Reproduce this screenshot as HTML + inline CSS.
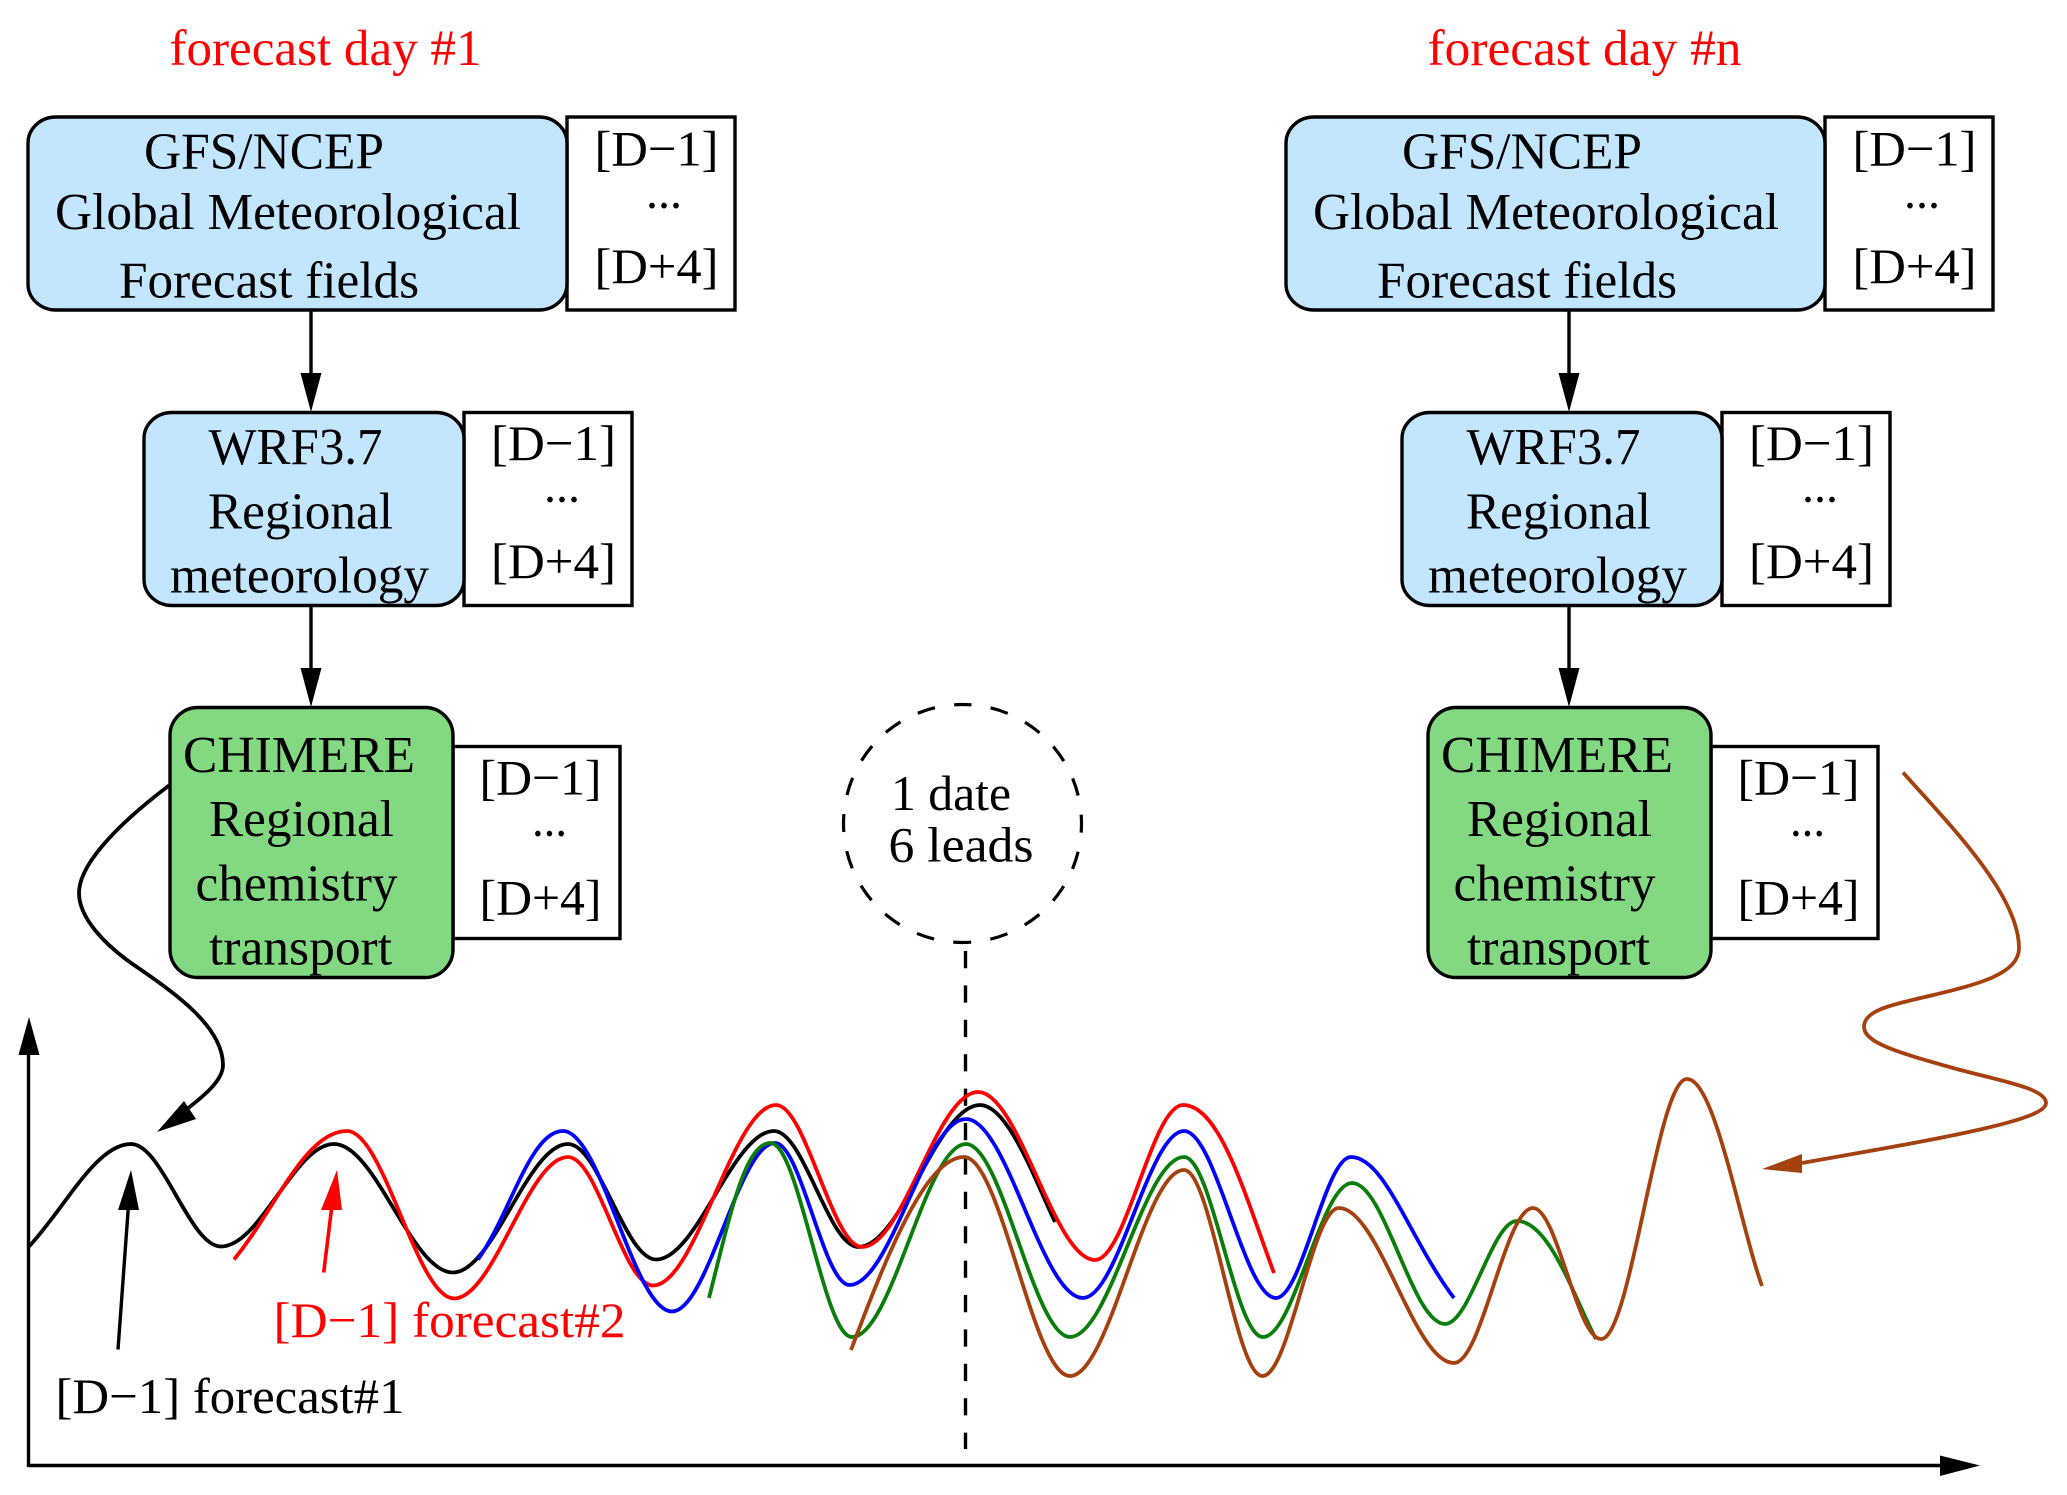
<!DOCTYPE html>
<html><head><meta charset="utf-8"><style>
html,body{margin:0;padding:0;background:#fff;width:2067px;height:1495px;overflow:hidden}
svg{display:block}
text{font-family:"Liberation Serif",serif;font-size:52px;fill:#000}
.t{font-size:50px}
.r{fill:#f00}
.b{stroke:#000;stroke-width:3.4}
.w{fill:#fff;stroke:#000;stroke-width:3.4}
.c{fill:none;stroke-width:3.8;stroke-linejoin:round}
</style></head><body>
<svg xmlns="http://www.w3.org/2000/svg" width="2067" height="1495" viewBox="0 0 2067 1495">
<rect width="2067" height="1495" fill="#fff"/>

<g>
<text class="r" x="169.5" y="65" textLength="312" lengthAdjust="spacingAndGlyphs" style="font-size:51px">forecast day #1</text>
<rect class="w" x="567" y="117" width="168" height="193"/>
<rect class="b" x="28" y="117" width="539" height="193" rx="28" ry="26" fill="#c3e6ff"/>
<text x="144" y="168.5" textLength="240" lengthAdjust="spacingAndGlyphs">GFS/NCEP</text>
<text x="55" y="229" textLength="466" lengthAdjust="spacingAndGlyphs">Global Meteorological</text>
<text x="119" y="297.5" textLength="300" lengthAdjust="spacingAndGlyphs">Forecast fields</text>
<text class="t" x="594.5" y="165.5" textLength="124" lengthAdjust="spacingAndGlyphs">[D−1]</text>
<text class="t" x="646" y="208" textLength="36" lengthAdjust="spacingAndGlyphs">...</text>
<text class="t" x="594.5" y="283" textLength="124" lengthAdjust="spacingAndGlyphs">[D+4]</text>
<line class="b" x1="311" y1="310" x2="311" y2="380"/>
<polygon points="300.5,373 321.5,373 311,412"/>

<rect class="w" x="464" y="412.5" width="168" height="193"/>
<rect class="b" x="144" y="412.5" width="320" height="193" rx="28" ry="26" fill="#c3e6ff"/>
<text x="208.5" y="464" textLength="174" lengthAdjust="spacingAndGlyphs">WRF3.7</text>
<text x="208" y="528.5" textLength="185" lengthAdjust="spacingAndGlyphs">Regional</text>
<text x="170" y="592.5" textLength="259" lengthAdjust="spacingAndGlyphs">meteorology</text>
<text class="t" x="491" y="460" textLength="125" lengthAdjust="spacingAndGlyphs">[D−1]</text>
<text class="t" x="544" y="502" textLength="36" lengthAdjust="spacingAndGlyphs">...</text>
<text class="t" x="491" y="578" textLength="125" lengthAdjust="spacingAndGlyphs">[D+4]</text>
<line class="b" x1="311" y1="605" x2="311" y2="675"/>
<polygon points="300.5,668 321.5,668 311,707"/>

<rect class="w" x="453" y="746.5" width="167" height="192"/>
<rect class="b" x="170" y="707.5" width="283" height="270" rx="28" ry="28" fill="#82d982"/>
<text x="183" y="772" textLength="232" lengthAdjust="spacingAndGlyphs">CHIMERE</text>
<text x="209" y="836" textLength="185" lengthAdjust="spacingAndGlyphs">Regional</text>
<text x="195.5" y="900.5" textLength="202" lengthAdjust="spacingAndGlyphs">chemistry</text>
<text x="209" y="964.5" textLength="183" lengthAdjust="spacingAndGlyphs">transport</text>
<text class="t" x="479.5" y="794.5" textLength="122" lengthAdjust="spacingAndGlyphs">[D−1]</text>
<text class="t" x="532" y="836" textLength="35" lengthAdjust="spacingAndGlyphs">...</text>
<text class="t" x="479.5" y="914.5" textLength="122" lengthAdjust="spacingAndGlyphs">[D+4]</text>
</g>

<g transform="translate(1258 0)">
<text class="r" x="169.5" y="65" textLength="314" lengthAdjust="spacingAndGlyphs" style="font-size:51px">forecast day #n</text>
<rect class="w" x="567" y="117" width="168" height="193"/>
<rect class="b" x="28" y="117" width="539" height="193" rx="28" ry="26" fill="#c3e6ff"/>
<text x="144" y="168.5" textLength="240" lengthAdjust="spacingAndGlyphs">GFS/NCEP</text>
<text x="55" y="229" textLength="466" lengthAdjust="spacingAndGlyphs">Global Meteorological</text>
<text x="119" y="297.5" textLength="300" lengthAdjust="spacingAndGlyphs">Forecast fields</text>
<text class="t" x="594.5" y="165.5" textLength="124" lengthAdjust="spacingAndGlyphs">[D−1]</text>
<text class="t" x="646" y="208" textLength="36" lengthAdjust="spacingAndGlyphs">...</text>
<text class="t" x="594.5" y="283" textLength="124" lengthAdjust="spacingAndGlyphs">[D+4]</text>
<line class="b" x1="311" y1="310" x2="311" y2="380"/>
<polygon points="300.5,373 321.5,373 311,412"/>

<rect class="w" x="464" y="412.5" width="168" height="193"/>
<rect class="b" x="144" y="412.5" width="320" height="193" rx="28" ry="26" fill="#c3e6ff"/>
<text x="208.5" y="464" textLength="174" lengthAdjust="spacingAndGlyphs">WRF3.7</text>
<text x="208" y="528.5" textLength="185" lengthAdjust="spacingAndGlyphs">Regional</text>
<text x="170" y="592.5" textLength="259" lengthAdjust="spacingAndGlyphs">meteorology</text>
<text class="t" x="491" y="460" textLength="125" lengthAdjust="spacingAndGlyphs">[D−1]</text>
<text class="t" x="544" y="502" textLength="36" lengthAdjust="spacingAndGlyphs">...</text>
<text class="t" x="491" y="578" textLength="125" lengthAdjust="spacingAndGlyphs">[D+4]</text>
<line class="b" x1="311" y1="605" x2="311" y2="675"/>
<polygon points="300.5,668 321.5,668 311,707"/>

<rect class="w" x="453" y="746.5" width="167" height="192"/>
<rect class="b" x="170" y="707.5" width="283" height="270" rx="28" ry="28" fill="#82d982"/>
<text x="183" y="772" textLength="232" lengthAdjust="spacingAndGlyphs">CHIMERE</text>
<text x="209" y="836" textLength="185" lengthAdjust="spacingAndGlyphs">Regional</text>
<text x="195.5" y="900.5" textLength="202" lengthAdjust="spacingAndGlyphs">chemistry</text>
<text x="209" y="964.5" textLength="183" lengthAdjust="spacingAndGlyphs">transport</text>
<text class="t" x="479.5" y="794.5" textLength="122" lengthAdjust="spacingAndGlyphs">[D−1]</text>
<text class="t" x="532" y="836" textLength="35" lengthAdjust="spacingAndGlyphs">...</text>
<text class="t" x="479.5" y="914.5" textLength="122" lengthAdjust="spacingAndGlyphs">[D+4]</text>
</g>

<!-- dashed circle -->
<circle cx="962.5" cy="823.5" r="119" fill="none" stroke="#000" stroke-width="3.2" stroke-dasharray="18 19.4" stroke-dashoffset="9" transform="rotate(-90 962.5 823.5)"/>
<text x="891" y="810" textLength="120" lengthAdjust="spacingAndGlyphs" style="font-size:50px">1 date</text>
<text x="888.5" y="861.5" textLength="145" lengthAdjust="spacingAndGlyphs" style="font-size:50px">6 leads</text>
<line x1="965.5" y1="951" x2="965.5" y2="1449" stroke="#000" stroke-width="3.4" stroke-dasharray="17.2 17.2"/>

<!-- axes -->
<line class="b" x1="28.5" y1="1465.5" x2="1945" y2="1465.5"/>
<line class="b" x1="28.5" y1="1467" x2="28.5" y2="1050"/>
<polygon points="18.5,1055 39.5,1055 29,1017"/>
<polygon points="1940,1455.5 1940,1476 1980,1465.5"/>

<!-- forecast curves -->
<path class="c" stroke="#000" d="M29 1246.5C65 1208 96 1144 131 1144C162.5 1144 189.5 1246.5 221 1246.5C260.5 1246.5 294.5 1144 334 1144C375.5 1144 411.5 1272.5 453 1272.5C493 1272.5 528 1144 568 1144C599 1144 625 1259.5 656 1259.5C697 1259.5 733 1131 774 1131C804 1131 828.5 1247 858.5 1247C901 1247 937.5 1105 980 1105C1008 1105 1035 1180 1055 1222"/>
<path class="c" stroke="#f00" d="M234 1259.5C275 1210 305 1131 347 1131C384 1131 417 1298.5 454 1298.5C494 1298.5 528 1157 568 1157C598 1157 623 1285.5 653 1285.5C696 1285.5 733 1105 776 1105C806 1105 832 1247 862 1247C903 1247 937 1092 978 1092C1019 1092 1054 1260 1095 1260C1126 1260 1152 1105 1183 1105C1220 1105 1245 1195 1274 1273"/>
<path class="c" stroke="#00f" d="M478 1259.5C510 1215 530 1131 563 1131C601 1131 634 1311.5 672 1311.5C708 1311.5 739 1143 775 1143C801 1143 823.5 1285 849.5 1285C890.5 1285 925 1119 966 1119C1007 1119 1042 1298 1083 1298C1118 1298 1149 1131 1184 1131C1216 1131 1244 1298 1276 1298C1302 1298 1325 1157 1351 1157C1385 1157 1410 1240 1454 1298"/>
<path class="c" stroke="#0a7d0a" d="M709 1298C730 1215 745 1143 770.5 1143C799 1143 823.5 1337 852 1337C892 1337 926 1144 966 1144C1002 1144 1034 1337 1070 1337C1110 1337 1144 1157 1184 1157C1212 1157 1235 1337 1263 1337C1294 1337 1321 1183 1352 1183C1385 1183 1412 1324 1445 1324C1470 1324 1492 1221 1517 1221C1550 1221 1575 1300 1596 1339"/>
<path class="c" stroke="#a5400f" d="M851 1350C885 1260 925 1157 964 1157C1001 1157 1033 1376 1070 1376C1110 1376 1144 1170 1184 1170C1211.5 1170 1235 1376 1262.5 1376C1289.5 1376 1312 1208 1339 1208C1379 1208 1414 1363 1454 1363C1482 1363 1505 1208 1533 1208C1557 1208 1577 1339 1601 1339C1631 1339 1657 1079 1687 1079C1715 1079 1740 1225 1762 1286"/>

<!-- left S connector -->
<path class="c" stroke="#000" d="M169 785.5C130 815 79 860 79 893C79 918 105 945 134 965C170 990 223 1025 223 1065C223 1080 205 1095 187 1109"/>
<polygon points="184,1101 196,1119 157,1132"/>

<!-- right S connector -->
<path class="c" stroke="#a5400f" d="M1903 772.5C1950 825 2019 895 2019 948C2019 975 1975 985 1925 997C1885 1006 1864 1012 1864 1027C1864 1043 1900 1053 1953 1068C2000 1081 2046 1088 2046 1103C2046 1120 1950 1137 1802 1163"/>
<polygon points="1802,1154 1802,1173 1762,1169" fill="#a5400f"/>

<!-- labels and pointers -->
<line x1="118" y1="1349.5" x2="128.5" y2="1205" stroke="#000" stroke-width="3.4"/>
<polygon points="118,1210 139,1210 131,1170"/>
<line x1="323.7" y1="1272.5" x2="332" y2="1205" stroke="#f00" stroke-width="3.6"/>
<polygon points="321,1210 342,1210 337,1170" fill="#f00"/>
<text class="r" x="273.5" y="1337" textLength="352" lengthAdjust="spacingAndGlyphs" style="font-size:50px">[D−1] forecast#2</text>
<text x="55.5" y="1413" textLength="349" lengthAdjust="spacingAndGlyphs" style="font-size:50px">[D−1] forecast#1</text>
</svg>
</body></html>
